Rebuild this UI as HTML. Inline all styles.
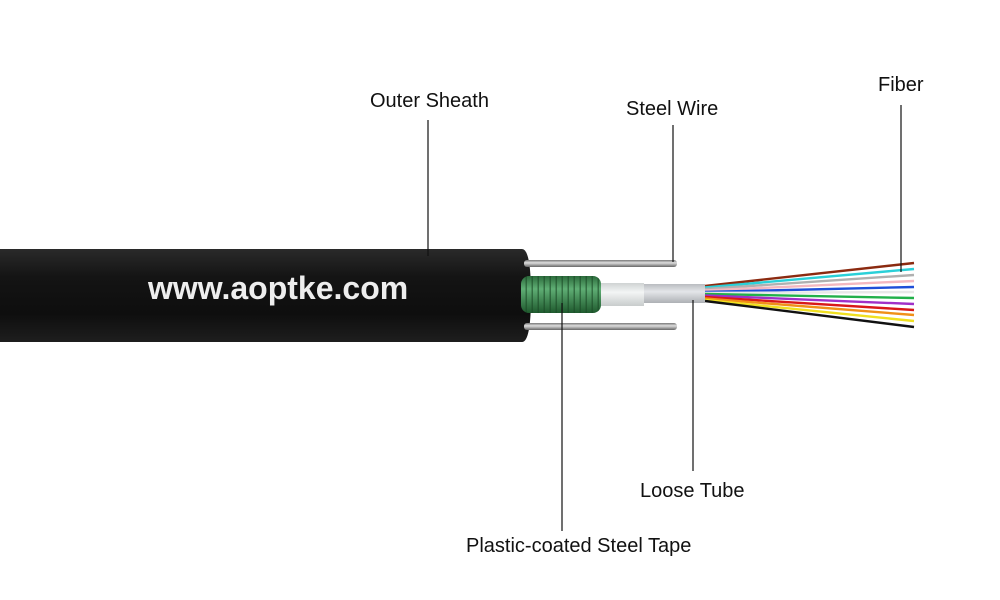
<!DOCTYPE html>
<html><head><meta charset="utf-8"><style>
html,body{margin:0;padding:0;background:#fff;}
svg{display:block}
text{font-family:"Liberation Sans",sans-serif;fill:#111;}
</style></head><body>
<svg width="1000" height="600" viewBox="0 0 1000 600" xmlns="http://www.w3.org/2000/svg">
<defs>
<linearGradient id="blk" x1="0" y1="0" x2="0" y2="1">
<stop offset="0" stop-color="#2a2a2a"/><stop offset="0.3" stop-color="#141414"/><stop offset="0.7" stop-color="#0e0e0e"/><stop offset="1" stop-color="#1e1e1e"/></linearGradient>
<linearGradient id="wire" x1="0" y1="0" x2="0" y2="1">
<stop offset="0" stop-color="#777"/><stop offset="0.4" stop-color="#ddd"/><stop offset="1" stop-color="#666"/></linearGradient>
<linearGradient id="grn" x1="0" y1="0" x2="0" y2="1">
<stop offset="0" stop-color="#2c6b3c"/><stop offset="0.35" stop-color="#5fae74"/><stop offset="1" stop-color="#1f5a2e"/></linearGradient>
<linearGradient id="wt" x1="0" y1="0" x2="0" y2="1">
<stop offset="0" stop-color="#cfd3d3"/><stop offset="0.4" stop-color="#f3f5f5"/><stop offset="1" stop-color="#c8cccc"/></linearGradient>
<linearGradient id="gt" x1="0" y1="0" x2="0" y2="1">
<stop offset="0" stop-color="#b9bcc0"/><stop offset="0.4" stop-color="#e4e6e9"/><stop offset="1" stop-color="#aeb1b5"/></linearGradient>
<pattern id="rib" width="6" height="40" patternUnits="userSpaceOnUse">
<rect width="6" height="40" fill="none"/><rect x="3.5" width="1.5" height="40" fill="#1a4a26" opacity="0.6"/></pattern>
</defs>
<path d="M0 249 H522 Q531 249 531 295.5 Q531 342 522 342 H0 Z" fill="url(#blk)"/>
<text x="148" y="299" font-size="32" font-weight="bold" style="fill:#eee">www.aoptke.com</text>
<rect x="524" y="260" width="153" height="7" rx="3" fill="url(#wire)"/>
<rect x="524" y="323" width="153" height="7" rx="3" fill="url(#wire)"/>
<g stroke-width="2.4" fill="none">
<line x1="705" y1="286" x2="914" y2="263" stroke="#8b2a10"/>
<line x1="705" y1="287.5" x2="914" y2="269" stroke="#2ad0d8"/>
<line x1="705" y1="289" x2="914" y2="275" stroke="#b0b0b0"/>
<line x1="705" y1="290.5" x2="914" y2="281" stroke="#f4b8c0"/>
<line x1="705" y1="292" x2="914" y2="287" stroke="#1f4fd8"/>
<line x1="705" y1="293" x2="914" y2="292" stroke="#e8e8e8"/>
<line x1="705" y1="294" x2="914" y2="298" stroke="#22b04a"/>
<line x1="705" y1="295.5" x2="914" y2="304" stroke="#a030c8"/>
<line x1="705" y1="297" x2="914" y2="310" stroke="#d81818"/>
<line x1="705" y1="298.5" x2="914" y2="315" stroke="#f09018"/>
<line x1="705" y1="300" x2="914" y2="321" stroke="#f0e020"/>
<line x1="705" y1="301" x2="914" y2="327" stroke="#111"/>
</g>
<rect x="643" y="284" width="62" height="19" fill="url(#gt)"/>
<rect x="600" y="283" width="44" height="23" fill="url(#wt)"/>
<rect x="521" y="276" width="80" height="37" rx="8" fill="url(#grn)"/>
<rect x="521" y="276" width="80" height="37" rx="8" fill="url(#rib)"/>
<g stroke="#111" stroke-width="1.2">
<line x1="428" y1="120" x2="428" y2="256"/>
<line x1="673" y1="125" x2="673" y2="262"/>
<line x1="901" y1="105" x2="901" y2="272"/>
<line x1="693" y1="300" x2="693" y2="471"/>
<line x1="562" y1="303" x2="562" y2="531"/>
</g>
<text x="370" y="107" font-size="20">Outer Sheath</text>
<text x="626" y="115" font-size="20">Steel Wire</text>
<text x="878" y="91" font-size="20">Fiber</text>
<text x="640" y="497" font-size="20">Loose Tube</text>
<text x="466" y="552" font-size="20">Plastic-coated Steel Tape</text>
</svg>
</body></html>
